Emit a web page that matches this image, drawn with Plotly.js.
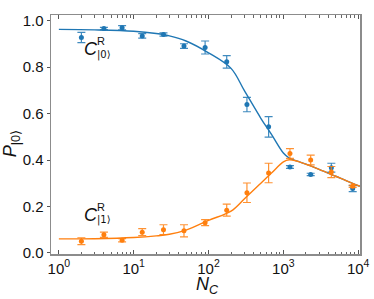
<!DOCTYPE html>
<html>
<head>
<meta charset="utf-8">
<script src="https://cdn.plot.ly/plotly-3.0.1.min.js"></script>
<style>html,body{margin:0;padding:0;background:#fff;}#chart{width:374px;height:299px;}</style>
</head>
<body>
<div id="chart"></div>
<script>
// Measured data points
const nC = [2, 4, 7, 13, 25, 47, 90, 175, 326, 635, 1225, 2317, 4375, 8440];
const p0 = [0.928, 0.967, 0.970, 0.935, 0.941, 0.891, 0.885, 0.823, 0.639, 0.543, 0.370, 0.338, 0.367, 0.277];
const p0Err = [0.022, 0.005, 0.009, 0.010, 0.007, 0.010, 0.028, 0.027, 0.031, 0.044, 0.006, 0.005, 0.019, 0.013];
const p1 = [0.050, 0.078, 0.054, 0.089, 0.100, 0.095, 0.130, 0.184, 0.259, 0.344, 0.428, 0.400, 0.348, 0.287];
const p1Err = [0.015, 0.011, 0.007, 0.015, 0.021, 0.026, 0.013, 0.026, 0.042, 0.042, 0.021, 0.021, 0.024, 0.005];
// Fitted curves
const fitN = [1, 3, 10, 20, 30, 50, 100, 200, 300, 500, 700, 1000, 1200, 1500, 2000, 3000, 5000, 7000, 10500];
const fit0 = [0.963, 0.961, 0.955, 0.945, 0.935, 0.913, 0.862, 0.795, 0.700, 0.580, 0.508, 0.430, 0.408, 0.396, 0.382, 0.360, 0.330, 0.310, 0.287];
const fit1 = [0.060, 0.061, 0.066, 0.073, 0.080, 0.098, 0.140, 0.180, 0.232, 0.300, 0.345, 0.392, 0.401, 0.396, 0.382, 0.360, 0.330, 0.310, 0.287];
const xTickVals = [1, 10, 100, 1000, 10000];
const xTickText = ['10<sup>0</sup>', '10<sup>1</sup>', '10<sup>2</sup>', '10<sup>3</sup>', '10<sup>4</sup>'];
const yTickVals = [0, 0.2, 0.4, 0.6, 0.8, 1.0];
const yTickText = ['0.0', '0.2', '0.4', '0.6', '0.8', '1.0'];

const minorVals = [];
[1, 10, 100, 1000].forEach(d => { for (let k = 2; k <= 9; k++) minorVals.push(k * d); });

const BLUE = '#1f77b4', ORANGE = '#ff7f0e';
const FONT = 'Liberation Sans, Arial, Helvetica, sans-serif';

const traces = [
  {x: fitN, y: fit0, mode: 'lines', line: {color: BLUE, width: 1.4, shape: 'spline'}, hoverinfo: 'skip'},
  {x: fitN, y: fit1, mode: 'lines', line: {color: ORANGE, width: 1.4, shape: 'spline'}, hoverinfo: 'skip'},
  {x: nC, y: p0, mode: 'markers', marker: {color: BLUE, size: 5},
   error_y: {type: 'data', array: p0Err, color: 'rgba(31,119,180,0.85)', thickness: 1.2, width: 4}},
  {x: nC, y: p1, mode: 'markers', marker: {color: ORANGE, size: 5},
   error_y: {type: 'data', array: p1Err, color: 'rgba(255,127,14,0.85)', thickness: 1.2, width: 4}}
];

const axisLine = '#8c8c8c';
const layout = {
  width: 374, height: 299,
  margin: {l: 51, r: 14, t: 15, b: 45},
  paper_bgcolor: '#fff', plot_bgcolor: '#fff',
  showlegend: false,
  font: {family: FONT, size: 15, color: '#111'},
  xaxis: {
    type: 'log', range: [-0.105, 4.024],
    tickmode: 'array', tickvals: xTickVals, ticktext: xTickText,
    ticks: 'inside', ticklen: 4, tickwidth: 1, tickcolor: '#555',
    minor: {tickmode: 'array', tickvals: minorVals, ticks: 'inside', ticklen: 2.5, tickwidth: 1, tickcolor: '#666', showgrid: false},
    showline: true, linecolor: axisLine, linewidth: 1.5, mirror: 'allticks',
    showgrid: false, zeroline: false,
    tickfont: {family: FONT, size: 15, color: '#111'}
  },
  yaxis: {
    range: [-0.005, 1.025],
    tickmode: 'array', tickvals: yTickVals, ticktext: yTickText,
    ticks: 'outside', ticklen: 3, tickwidth: 1, tickcolor: '#555',
    showline: true, linecolor: axisLine, linewidth: 1.5, mirror: true,
    showgrid: false, zeroline: false,
    tickfont: {family: FONT, size: 15, color: '#111'}
  },
  yaxis2: {
    overlaying: 'y', side: 'right', range: [-0.005, 1.025],
    tickmode: 'array', tickvals: yTickVals,
    ticks: 'inside', ticklen: 4, tickwidth: 1, tickcolor: '#555',
    showticklabels: false, showline: false, showgrid: false, zeroline: false
  },
  annotations: [
    {xref: 'x', yref: 'y', x: 0.428, y: 0.880, text: '<i>C</i>', showarrow: false, xanchor: 'center', yanchor: 'middle', font: {family: FONT, size: 18, color: '#111'}},
    {xref: 'x', yref: 'y', x: 0.566, y: 0.913, text: 'R', showarrow: false, xanchor: 'center', yanchor: 'middle', font: {family: FONT, size: 11, color: '#111'}},
    {xref: 'x', yref: 'y', x: 0.597, y: 0.853, text: '|0⟩', showarrow: false, xanchor: 'center', yanchor: 'middle', font: {family: 'DejaVu Sans, ' + FONT, size: 10, color: '#111'}},
    {xref: 'x', yref: 'y', x: 0.43, y: 0.162, text: '<i>C</i>', showarrow: false, xanchor: 'center', yanchor: 'middle', font: {family: FONT, size: 18, color: '#111'}},
    {xref: 'x', yref: 'y', x: 0.568, y: 0.197, text: 'R', showarrow: false, xanchor: 'center', yanchor: 'middle', font: {family: FONT, size: 11, color: '#111'}},
    {xref: 'x', yref: 'y', x: 0.597, y: 0.140, text: '|1⟩', showarrow: false, xanchor: 'center', yanchor: 'middle', font: {family: 'DejaVu Sans, ' + FONT, size: 10, color: '#111'}},
    {xref: 'paper', yref: 'paper', x: -0.129, y: 0.46, text: '<i>P</i><sub>|0⟩</sub>', textangle: -90, showarrow: false, xanchor: 'center', yanchor: 'middle', font: {family: FONT, size: 18, color: '#111'}},
    {xref: 'paper', yref: 'paper', x: 0.508, y: -0.13, text: '<i>N</i><sub><i>C</i></sub>', showarrow: false, xanchor: 'center', yanchor: 'middle', font: {family: FONT, size: 18, color: '#111'}}
  ]
};

Plotly.newPlot('chart', traces, layout, {staticPlot: true, displayModeBar: false});
</script>
</body>
</html>
